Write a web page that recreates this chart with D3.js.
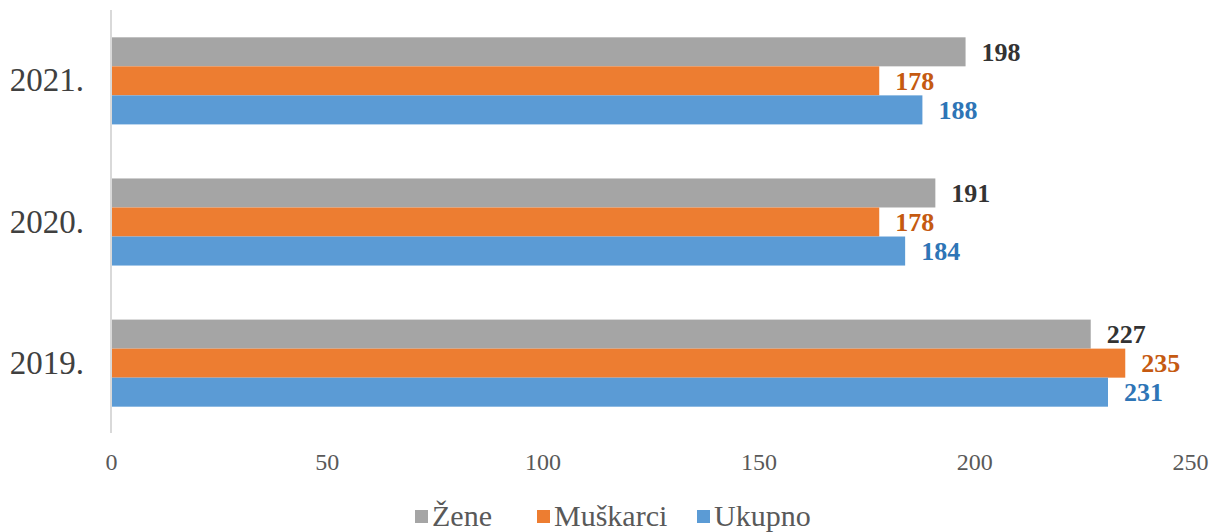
<!DOCTYPE html>
<html>
<head>
<meta charset="utf-8">
<script src="https://cdn.jsdelivr.net/npm/d3@7"></script>
<style>
  html, body { margin: 0; padding: 0; background: #fff; }
  svg { display: block; }
</style>
</head>
<body>
<svg id="chart" width="1211" height="532"></svg>
<script>
// Years shown top to bottom, and the three series per year
const years = ["2021.", "2020.", "2019."];
const seriesNames = ["Žene", "Muškarci", "Ukupno"];
const zene = [198, 191, 227];
const muskarci = [178, 178, 235];
const ukupno = [188, 184, 231];
const xTicks = [0, 50, 100, 150, 200, 250];

const barColors = ["#A5A5A5", "#ED7D31", "#5B9BD5"];
const labelColors = ["#333333", "#C55A11", "#2E75B6"];
const seriesValues = [zene, muskarci, ukupno];

const svg = d3.select("#chart");
const font = "'Liberation Serif', 'Times New Roman', serif";

const x = d3.scaleLinear().domain([0, 250]).range([111, 1190]);
const y = d3.scaleBand().domain(years).range([10.5, 433.5])
  .paddingInner(0.383).paddingOuter(0.19);
const ySub = d3.scaleBand().domain(seriesNames).range([0, y.bandwidth()]);

// x axis tick labels (no axis line or tick marks)
const xAxis = svg.append("g")
  .attr("transform", "translate(0,462)")
  .call(d3.axisBottom(x).tickValues(xTicks).tickSize(0).tickPadding(0));
xAxis.attr("font-family", font).attr("font-size", 24);
xAxis.select(".domain").remove();
xAxis.selectAll("text")
  .attr("font-family", font).attr("font-size", 24).attr("fill", "#595959")
  .attr("dy", "0.35em");

// vertical baseline at zero
svg.append("line")
  .attr("x1", x(0)).attr("x2", x(0))
  .attr("y1", 10).attr("y2", 433)
  .attr("stroke", "#D9D9D9").attr("stroke-width", 2);

// year labels
const yAxis = svg.append("g")
  .attr("transform", "translate(84,0)")
  .call(d3.axisLeft(y).tickSize(0).tickPadding(0));
yAxis.attr("font-family", font).attr("font-size", 33);
yAxis.select(".domain").remove();
yAxis.selectAll("text")
  .attr("font-family", font).attr("font-size", 33).attr("fill", "#404040");

// bars and value labels
years.forEach((yr, i) => {
  const g = svg.append("g").attr("transform", `translate(0,${y(yr)})`);
  seriesNames.forEach((s, j) => {
    const v = seriesValues[j][i];
    g.append("rect")
      .attr("x", x(0) + 1)
      .attr("y", ySub(s))
      .attr("width", x(v) - x(0) - 1)
      .attr("height", ySub.bandwidth())
      .attr("fill", barColors[j]);
    g.append("text")
      .attr("x", x(v) + 16)
      .attr("y", ySub(s) + ySub.bandwidth() / 2)
      .attr("dy", "0.35em")
      .attr("font-family", font).attr("font-size", 26).attr("font-weight", "bold")
      .attr("fill", labelColors[j])
      .text(v);
  });
});

// legend
const legendX = [415, 537, 697];
const legend = svg.append("g").attr("transform", "translate(0,515)");
seriesNames.forEach((s, j) => {
  legend.append("rect")
    .attr("x", legendX[j]).attr("y", -5)
    .attr("width", 13).attr("height", 13)
    .attr("fill", barColors[j]);
  legend.append("text")
    .attr("x", legendX[j] + 17).attr("y", 0)
    .attr("dy", "0.35em")
    .attr("font-family", font).attr("font-size", 30).attr("fill", "#595959")
    .text(s);
});
</script>
</body>
</html>
